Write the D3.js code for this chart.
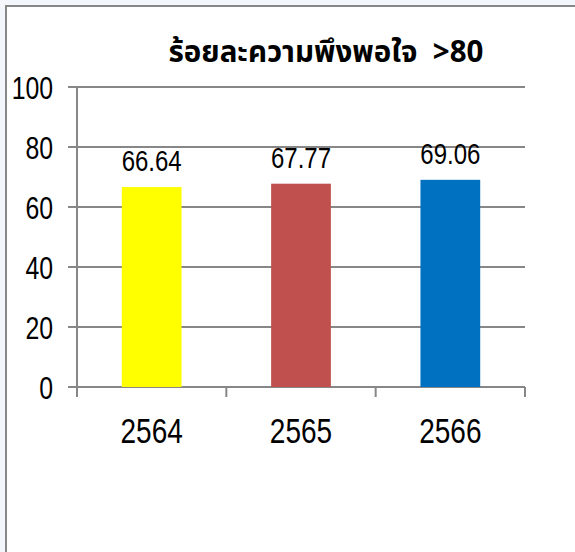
<!DOCTYPE html>
<html>
<head>
<meta charset="utf-8">
<script src="https://cdn.jsdelivr.net/npm/d3@7"></script>
<style>
body { margin: 0; background: #f3f7fb; }
svg { display: block; }
.num { font-family: "Liberation Sans", sans-serif; fill: #000; }
.title { white-space: pre; }
</style>
</head>
<body>
<svg></svg>
<script>
var years = ["2564", "2565", "2566"];
var scores = [66.64, 67.77, 69.06];
var barColors = ["#ffff00", "#c0504d", "#0070c0"];
var yTicks = [0, 20, 40, 60, 80, 100];
var title = "ร้อยละความพึงพอใจ  >80";

var screen = {width: 575, height: 552};
var plot = {left: 77, right: 525, top: 87, bottom: 387};
var narrow = 0.8; // squeeze digits to look like a condensed face

var svg = d3.select("svg")
    .attr("width", screen.width)
    .attr("height", screen.height);

// frame of the chart area
svg.append("rect")
    .attr("x", 6).attr("y", 6)
    .attr("width", screen.width).attr("height", screen.height)
    .attr("fill", "#fff")
    .attr("stroke", "#878787")
    .attr("stroke-width", 2);

var xScale = d3.scaleBand().domain(years).range([plot.left, plot.right]).paddingInner(0.6).paddingOuter(0.3);
var yScale = d3.scaleLinear().domain([0, 100]).range([plot.bottom, plot.top]);

// gridlines
svg.append("g")
    .selectAll("line")
    .data(yTicks)
    .enter()
    .append("line")
    .attr("x1", plot.left - 9)
    .attr("x2", plot.right)
    .attr("y1", function(d){ return yScale(d); })
    .attr("y2", function(d){ return yScale(d); })
    .attr("stroke", "#878787")
    .attr("stroke-width", 2);

// y axis line
svg.append("line")
    .attr("x1", plot.left).attr("x2", plot.left)
    .attr("y1", plot.top).attr("y2", plot.bottom + 10)
    .attr("stroke", "#878787")
    .attr("stroke-width", 2);

// category separators below x axis
var step = (plot.right - plot.left) / years.length;
svg.append("g")
    .selectAll("line")
    .data(d3.range(years.length + 1))
    .enter()
    .append("line")
    .attr("x1", function(i){ return plot.left + i * step; })
    .attr("x2", function(i){ return plot.left + i * step; })
    .attr("y1", plot.bottom)
    .attr("y2", plot.bottom + 10)
    .attr("stroke", "#878787")
    .attr("stroke-width", 2);

// bars
svg.append("g")
    .selectAll("rect")
    .data(scores)
    .enter()
    .append("rect")
    .attr("x", function(d, i){ return xScale(years[i]); })
    .attr("y", function(d){ return yScale(d); })
    .attr("width", xScale.bandwidth())
    .attr("height", function(d){ return plot.bottom - yScale(d); })
    .attr("fill", function(d, i){ return barColors[i]; });

var place = function(x, y){ return "translate(" + x + "," + y + ") scale(" + narrow + ",1)"; };

// value labels
svg.append("g")
    .selectAll("text")
    .data(scores)
    .enter()
    .append("text")
    .attr("class", "num")
    .attr("transform", function(d, i){ return place(xScale(years[i]) + xScale.bandwidth() / 2, yScale(d) - 16); })
    .attr("text-anchor", "middle")
    .attr("font-size", 30)
    .text(function(d){ return d.toFixed(2); });

// y tick labels
svg.append("g")
    .selectAll("text")
    .data(yTicks)
    .enter()
    .append("text")
    .attr("class", "num")
    .attr("transform", function(d){ return place(53, yScale(d) + 12); })
    .attr("text-anchor", "end")
    .attr("font-size", 31)
    .text(function(d){ return d; });

// x tick labels
svg.append("g")
    .selectAll("text")
    .data(years)
    .enter()
    .append("text")
    .attr("class", "num")
    .attr("transform", function(d){ return place(xScale(d) + xScale.bandwidth() / 2, 443); })
    .attr("text-anchor", "middle")
    .attr("font-size", 35)
    .text(function(d){ return d; });

// title
svg.append("text")
    .attr("class", "title")
    .attr("x", 326)
    .attr("y", 62)
    .attr("text-anchor", "middle")
    .attr("font-family", "Tahoma, 'Noto Sans Thai', 'Noto Sans', sans-serif")
    .attr("font-weight", "bold")
    .attr("font-size", 29.5)
    .text(title);
</script>
</body>
</html>
